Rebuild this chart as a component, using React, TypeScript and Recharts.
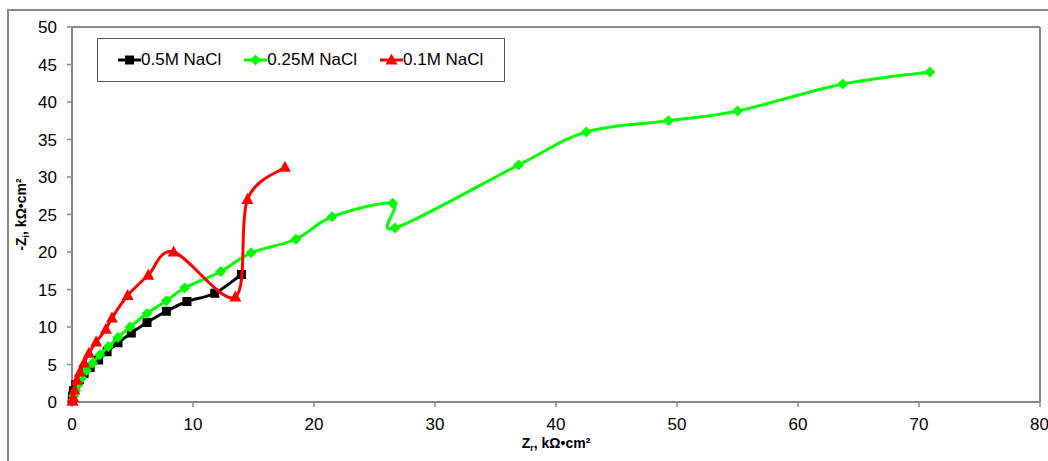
import React from 'react';
import { ScatterChart, Scatter, XAxis, YAxis, ReferenceLine, Legend } from 'recharts';

const xTicks = [0, 10, 20, 30, 40, 50, 60, 70, 80];
const yTicks = [0, 5, 10, 15, 20, 25, 30, 35, 40, 45, 50];

// 0.5M NaCl
const zr05 = [0.02, 0.05, 0.12, 0.3, 0.6, 1.0, 1.5, 2.2, 2.9, 3.8, 4.9, 6.2, 7.8, 9.5, 11.8, 14.0];
const zi05 = [0.2, 0.8, 1.5, 2.3, 3.0, 3.8, 4.6, 5.6, 6.7, 7.9, 9.2, 10.6, 12.1, 13.4, 14.5, 17.0];

// 0.25M NaCl
const zr025 = [0.05, 0.15, 0.3, 0.5, 0.8, 1.2, 1.7, 2.3, 3.0, 3.8, 4.8, 6.2, 7.8, 9.3, 12.3, 14.8, 18.5, 21.5, 26.5, 26.7, 36.9, 42.5, 49.3, 55.0, 63.7, 70.9];
const zi025 = [0.2, 0.8, 1.5, 2.3, 3.2, 4.2, 5.2, 6.3, 7.4, 8.6, 10.0, 11.8, 13.5, 15.2, 17.4, 19.9, 21.7, 24.7, 26.5, 23.2, 31.6, 36.0, 37.5, 38.8, 42.4, 44.0];

// 0.1M NaCl
const zr01 = [0.05, 0.1, 0.2, 0.4, 0.66, 1.0, 1.4, 2.0, 2.8, 3.3, 4.6, 6.3, 8.4, 13.5, 14.5, 17.6];
const zi01 = [0.1, 0.6, 1.6, 2.9, 4.0, 5.2, 6.5, 8.0, 9.7, 11.2, 14.2, 16.9, 20.0, 14.0, 27.0, 31.3];

const seriesNames = ['0.5M NaCl', '0.25M NaCl', '0.1M NaCl'];

const zip = (xs: number[], ys: number[]) => xs.map((x, i) => ({ x, y: ys[i] }));

const FONT = '"Liberation Sans", Arial, sans-serif';
const GRAY = '#888888';

// Excel-style smoothed line (uniform Catmull-Rom as cubic beziers)
const excelSmooth = (context: any) => {
  let pts: number[][] = [];
  return {
    areaStart() {},
    areaEnd() {},
    lineStart() {
      pts = [];
    },
    point(x: number, y: number) {
      pts.push([+x, +y]);
    },
    lineEnd() {
      if (!pts.length) return;
      context.moveTo(pts[0][0], pts[0][1]);
      for (let i = 0; i < pts.length - 1; i++) {
        const p0 = pts[i - 1] || pts[i];
        const p1 = pts[i];
        const p2 = pts[i + 1];
        const p3 = pts[i + 2] || p2;
        context.bezierCurveTo(
          p1[0] + (p2[0] - p0[0]) / 6,
          p1[1] + (p2[1] - p0[1]) / 6,
          p2[0] - (p3[0] - p1[0]) / 6,
          p2[1] - (p3[1] - p1[1]) / 6,
          p2[0],
          p2[1]
        );
      }
    },
  };
};

const Square = ({ cx, cy, fill }: any) => <rect x={cx - 4.5} y={cy - 4.5} width={9} height={9} fill={fill} />;
const Diamond = ({ cx, cy, fill }: any) => (
  <polygon points={`${cx},${cy - 5.5} ${cx + 5.5},${cy} ${cx},${cy + 5.5} ${cx - 5.5},${cy}`} fill={fill} />
);
const Triangle = ({ cx, cy, fill }: any) => (
  <polygon points={`${cx},${cy - 6.5} ${cx + 6},${cy + 4.5} ${cx - 6},${cy + 4.5}`} fill={fill} />
);

const series = [
  { name: seriesNames[0], data: zip(zr05, zi05), color: '#000000', Marker: Square },
  { name: seriesNames[1], data: zip(zr025, zi025), color: '#00ff00', Marker: Diamond },
  { name: seriesNames[2], data: zip(zr01, zi01), color: '#ff0000', Marker: Triangle },
];

const LegendBox = () => (
  <div
    style={{
      width: 408,
      height: 44,
      border: '1px solid #555',
      background: '#fff',
      display: 'flex',
      alignItems: 'center',
      paddingLeft: 20,
      boxSizing: 'border-box',
      fontFamily: FONT,
      fontSize: 17,
      color: '#000',
      whiteSpace: 'nowrap',
    }}
  >
    {series.map(({ name, color, Marker }) => (
      <div key={name} style={{ display: 'flex', alignItems: 'center', marginRight: 23 }}>
        <svg width={23} height={14} style={{ display: 'block' }}>
          <line x1={0} y1={7} x2={23} y2={7} stroke={color} strokeWidth={3} />
          <Marker cx={11.5} cy={7} fill={color} />
        </svg>
        <span>{name}</span>
      </div>
    ))}
  </div>
);

const XTitle = ({ viewBox }: any) => {
  const { x, y, width } = viewBox;
  return (
    <text x={x + width / 2} y={y + 46} textAnchor="middle" fontFamily={FONT} fontSize={14} fontWeight="bold" fill="#000">
      Z<tspan fontSize={9} dy={3}>r</tspan>
      <tspan dy={-3}>, kΩ•cm²</tspan>
    </text>
  );
};

const YTitle = ({ viewBox }: any) => {
  const { x, y, height } = viewBox;
  const cx = x + 26;
  const cy = y + height / 2;
  return (
    <text
      x={cx}
      y={cy}
      transform={`rotate(-90, ${cx}, ${cy})`}
      textAnchor="middle"
      fontFamily={FONT}
      fontSize={14}
      fontWeight="bold"
      fill="#000"
    >
      -Z<tspan fontSize={9} dy={3}>i</tspan>
      <tspan dy={-3}>, kΩ•cm²</tspan>
    </text>
  );
};

export default function App() {
  return (
    <div style={{ position: 'fixed', left: 0, top: 0, width: 1048, height: 461, overflow: 'hidden', background: '#fff' }}>
      <div
        style={{
          position: 'absolute',
          left: 7,
          top: 9,
          width: 1100,
          height: 500,
          borderLeft: `2px solid ${GRAY}`,
          borderTop: `2px solid ${GRAY}`,
        }}
      />
      <div style={{ position: 'absolute', left: 0, top: 0 }}>
        <ScatterChart width={1048} height={461} margin={{ top: 27, right: 8, bottom: 0, left: 0 }}>
          <XAxis
            type="number"
            dataKey="x"
            domain={[0, 80]}
            ticks={xTicks}
            height={59}
            tickSize={5}
            tickMargin={11}
            axisLine={{ stroke: GRAY, strokeWidth: 2 }}
            tickLine={{ stroke: GRAY, strokeWidth: 1.5 }}
            tick={{ fill: '#000', fontSize: 17, fontFamily: FONT }}
            label={<XTitle />}
          />
          <YAxis
            type="number"
            dataKey="y"
            domain={[0, 50]}
            ticks={yTicks}
            width={72}
            tickSize={5}
            tickMargin={10}
            axisLine={{ stroke: GRAY, strokeWidth: 2 }}
            tickLine={{ stroke: GRAY, strokeWidth: 1.5 }}
            tick={{ fill: '#000', fontSize: 17, fontFamily: FONT }}
            label={<YTitle />}
          />
          <ReferenceLine y={50} stroke={GRAY} strokeWidth={2} ifOverflow="visible" />
          <ReferenceLine x={80} stroke={GRAY} strokeWidth={2} ifOverflow="visible" />
          <Legend
            layout="horizontal"
            verticalAlign="middle"
            align="center"
            wrapperStyle={{ left: 97, top: 38, width: 408 }}
            content={() => <LegendBox />}
          />
          {series.map(({ name, data, color, Marker }) => (
            <Scatter
              key={name}
              name={name}
              data={data}
              fill={color}
              line={{ stroke: color, strokeWidth: 3 }}
              lineJointType={excelSmooth as any}
              shape={(p: any) => <Marker cx={p.cx} cy={p.cy} fill={color} />}
              isAnimationActive={false}
            />
          ))}
        </ScatterChart>
      </div>
    </div>
  );
}
